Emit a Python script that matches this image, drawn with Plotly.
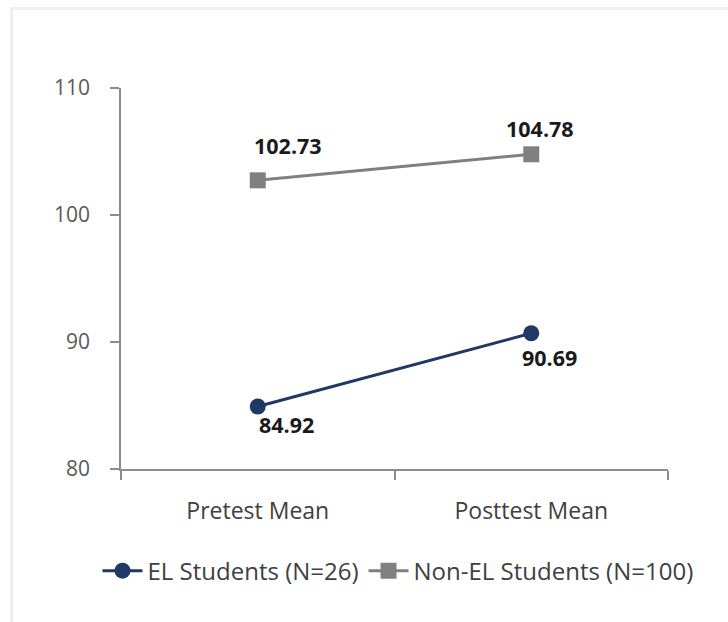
import plotly.graph_objects as go

categories = ["Pretest Mean", "Posttest Mean"]
el_values = [84.92, 90.69]
nonel_values = [102.73, 104.78]
series_names = ["EL Students (N=26)", "Non-EL Students (N=100)"]
y_ticks = [80, 90, 100, 110]

W, H = 728, 622
PL, PR, MT, MB = 121, 668, 88, 153

EL_COLOR = "#1F3864"
NONEL_COLOR = "#808080"
FONT = "Open Sans"

fig = go.Figure()
fig.add_trace(go.Scatter(
    x=categories, y=el_values, name=series_names[0], mode="lines+markers",
    line=dict(color=EL_COLOR, width=3),
    marker=dict(symbol="circle", size=16, color=EL_COLOR),
))
fig.add_trace(go.Scatter(
    x=categories, y=nonel_values, name=series_names[1], mode="lines+markers",
    line=dict(color=NONEL_COLOR, width=3),
    marker=dict(symbol="square", size=16, color=NONEL_COLOR),
))

# label offsets (pixels) relative to each point
el_label_shift = [(29, -18), (18, -24)]
nonel_label_shift = [(30, 35), (9, 26)]
for vals, shifts in ((el_values, el_label_shift), (nonel_values, nonel_label_shift)):
    for cat, v, (dx, dy) in zip(categories, vals, shifts):
        fig.add_annotation(
            x=cat, y=v, text=f"<b>{v:.2f}</b>", showarrow=False,
            xshift=dx, yshift=dy,
            font=dict(family=FONT, size=21.5, color="#1a1a1a"),
        )

ph = H - MT - MB
# light frame around the chart
fig.add_shape(
    type="rect", xref="paper", yref="paper",
    x0=11.5 / W, x1=(W + 20) / W,
    y0=-(H + 20 - MT - ph) / ph, y1=1 + (MT - 8.5) / ph,
    line=dict(color="#efefef", width=3), fillcolor="rgba(0,0,0,0)", layer="below",
)

fig.update_layout(
    width=W, height=H,
    margin=dict(l=0, r=0, t=MT, b=MB),
    paper_bgcolor="white", plot_bgcolor="white",
    font=dict(family=FONT, size=20, color="#404040"),
    showlegend=True,
    legend=dict(
        orientation="h", x=398 / W, xanchor="center", y=-0.268, yanchor="middle",
        font=dict(family=FONT, size=24, color="#404040"),
        itemwidth=40, tracegroupgap=0,
    ),
    xaxis=dict(
        type="category", range=[-0.5, 1.5], domain=[PL / W, PR / W],
        showgrid=False, showline=True, linecolor="#8c8c8c", linewidth=1.5,
        ticks="outside", ticklen=9, tickcolor="#8c8c8c", tickwidth=1.5, tickson="boundaries",
        tickfont=dict(family=FONT, size=23, color="#404040"),
        ticklabelstandoff=21, zeroline=False,
    ),
    yaxis=dict(
        range=[80, 110], tickvals=y_ticks, showgrid=False, showline=True,
        linecolor="#8c8c8c", linewidth=1.5,
        ticks="outside", ticklen=9, tickcolor="#8c8c8c", tickwidth=1.5,
        tickfont=dict(family=FONT, size=21, color="#595959"),
        ticklabelstandoff=16, zeroline=False,
    ),
    yaxis2=dict(
        range=[80, 110], tickvals=y_ticks, overlaying="y", anchor="x", side="left",
        showgrid=False, showline=False, showticklabels=False,
        ticks="inside", ticklen=7, tickcolor="#8c8c8c", tickwidth=1.5, zeroline=False,
    ),
)

fig.write_html("out.html")
